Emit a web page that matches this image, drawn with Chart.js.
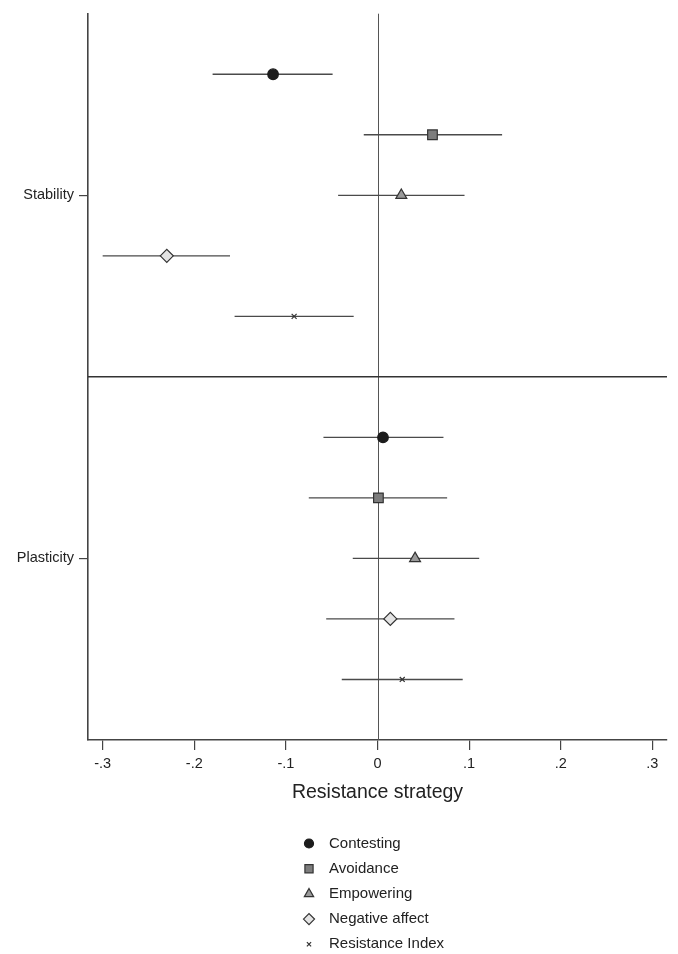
<!DOCTYPE html>
<html>
<head>
<meta charset="utf-8">
<script src="https://cdn.jsdelivr.net/npm/chart.js@4.4.0/dist/chart.umd.min.js"></script>
<style>
  html, body { margin: 0; padding: 0; background: #fff; }
  #wrap { width: 678px; height: 954px; position: relative; }
</style>
</head>
<body>
<div id="wrap"><canvas id="chart"></canvas></div>
<script>
// ============================
// DATA
// ============================
const seriesNames = ["Contesting", "Avoidance", "Empowering", "Negative affect", "Resistance Index"];
const groupNames  = ["Stability", "Plasticity"];
const xTicks      = [-0.3, -0.2, -0.1, 0, 0.1, 0.2, 0.3];

// estimate, lower and upper bound per series (same order as seriesNames)
const stabilityEst  = [-0.114,  0.060,  0.026, -0.230, -0.091];
const stabilityLo   = [-0.180, -0.015, -0.043, -0.300, -0.156];
const stabilityHi   = [-0.049,  0.136,  0.095, -0.161, -0.026];

const plasticityEst = [ 0.006,  0.001,  0.041,  0.014,  0.027];
const plasticityLo  = [-0.059, -0.075, -0.027, -0.056, -0.039];
const plasticityHi  = [ 0.072,  0.076,  0.111,  0.084,  0.093];

// row positions on the y scale
const stabilityRows  = [1, 2, 3, 4, 5];
const plasticityRows = [7, 8, 9, 10, 11];
const groupRows      = [3, 9];
const dividerRow     = 6;

// ============================
// STYLE
// ============================
const FONT = "'Liberation Sans', Arial, Helvetica, sans-serif";
const markers = [
  { pointStyle: "circle",   radius: 5.3, bg: "#1c1c1c", border: "#1c1c1c" },
  { pointStyle: "rect",     radius: 6.8, bg: "#7d7d7d", border: "#333333" },
  { pointStyle: "triangle", radius: 6.3, bg: "#9a9a9a", border: "#333333" },
  { pointStyle: "rectRot",  radius: 6.5, bg: "#e4e4e4", border: "#333333" },
  { pointStyle: "crossRot", radius: 3.5, bg: "#333333", border: "#333333" }
];

const datasets = seriesNames.map((name, i) => ({
  label: name,
  data: [
    { x: stabilityEst[i],  y: stabilityRows[i],  lo: stabilityLo[i],  hi: stabilityHi[i] },
    { x: plasticityEst[i], y: plasticityRows[i], lo: plasticityLo[i], hi: plasticityHi[i] }
  ],
  pointStyle: markers[i].pointStyle,
  pointRadius: markers[i].radius,
  backgroundColor: markers[i].bg,
  borderColor: markers[i].border,
  borderWidth: 1.2,
  order: 1
}));

// ============================
// PLUGINS
// ============================
const refLines = {
  id: "refLines",
  beforeDatasetsDraw(chart){
    const {ctx, chartArea: a, scales: {x, y}} = chart;
    ctx.save();
    // zero line
    ctx.strokeStyle = "#555";
    ctx.lineWidth = 1;
    const zx = Math.round(x.getPixelForValue(0)) + 0.5;
    ctx.beginPath(); ctx.moveTo(zx, a.top); ctx.lineTo(zx, a.bottom); ctx.stroke();
    // group divider
    ctx.strokeStyle = "#333";
    ctx.lineWidth = 1.5;
    const dy = y.getPixelForValue(dividerRow);
    ctx.beginPath(); ctx.moveTo(a.left, dy); ctx.lineTo(a.right, dy); ctx.stroke();
    // confidence intervals
    ctx.strokeStyle = "#4a4a4a";
    ctx.lineWidth = 1.3;
    chart.data.datasets.forEach(ds => {
      ds.data.forEach(p => {
        const py = y.getPixelForValue(p.y);
        ctx.beginPath();
        ctx.moveTo(x.getPixelForValue(p.lo), py);
        ctx.lineTo(x.getPixelForValue(p.hi), py);
        ctx.stroke();
      });
    });
    ctx.restore();
  }
};

const sideLegend = {
  id: "sideLegend",
  afterDraw(chart){
    const {ctx} = chart;
    const symX = 309, textX = 329, top = 843.5, step = 25.2;
    ctx.save();
    ctx.font = "15px " + FONT;
    ctx.textBaseline = "middle";
    chart.data.datasets.forEach((ds, i) => {
      const yy = top + i * step;
      ctx.fillStyle = ds.backgroundColor;
      ctx.strokeStyle = ds.borderColor;
      ctx.lineWidth = 1.2;
      Chart.helpers.drawPoint(ctx, {
        pointStyle: ds.pointStyle,
        radius: ds.pointRadius * 0.85,
        rotation: 0,
        borderWidth: 1.2
      }, symX, yy);
      ctx.fillStyle = "#222";
      ctx.fillText(ds.label, textX, yy);
    });
    ctx.restore();
  }
};

// ============================
// CHART
// ============================
new Chart(document.getElementById("chart"), {
  type: "scatter",
  data: { datasets },
  options: {
    responsive: true,
    maintainAspectRatio: false,
    animation: false,
    layout: { padding: { top: 12, right: 11, bottom: 150, left: 0 } },
    plugins: {
      legend: { display: false },
      tooltip: { enabled: false }
    },
    scales: {
      x: {
        type: "linear",
        min: -0.316,
        max: 0.316,
        afterBuildTicks: s => { s.ticks = xTicks.map(v => ({ value: v })); },
        afterFit: s => { s.height = 64; },
        grid: { display: true, drawOnChartArea: false, drawTicks: true, tickLength: 10, color: "#444", lineWidth: 1.2 },
        border: { display: true, color: "#444", width: 1.6 },
        ticks: {
          color: "#222",
          font: { family: FONT, size: 14.5 },
          padding: 5,
          maxRotation: 0,
          callback: v => v === 0 ? "0" : (v < 0 ? "-" : "") + "." + Math.round(Math.abs(v) * 10)
        },
        title: {
          display: true,
          text: "Resistance strategy",
          color: "#222",
          font: { family: FONT, size: 19.5 },
          padding: { top: 0, bottom: 0 }
        }
      },
      y: {
        type: "linear",
        min: 0,
        max: 12,
        reverse: true,
        afterBuildTicks: s => { s.ticks = groupRows.map(v => ({ value: v })); },
        afterFit: s => { s.width = 88; },
        grid: { display: true, drawOnChartArea: false, drawTicks: true, tickLength: 9, color: "#444", lineWidth: 1.2 },
        border: { display: true, color: "#444", width: 1.6 },
        ticks: {
          color: "#222",
          font: { family: FONT, size: 14.5 },
          padding: 5,
          callback: v => groupNames[groupRows.indexOf(v)]
        }
      }
    }
  },
  plugins: [refLines, sideLegend]
});
</script>
</body>
</html>
